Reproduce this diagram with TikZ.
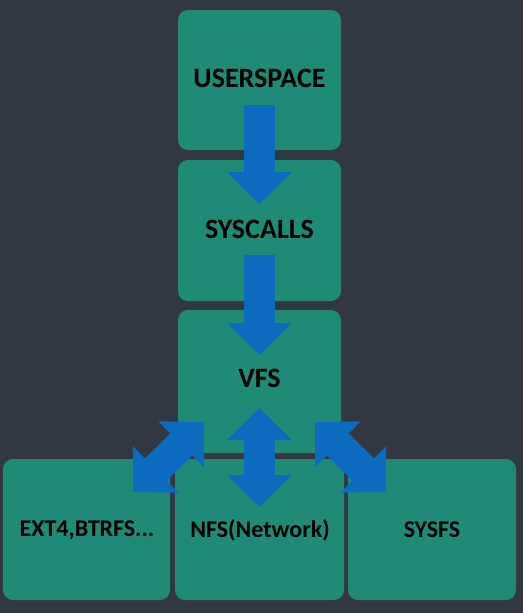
\documentclass[tikz,border=0pt]{standalone}
\usepackage{fontspec}
\setmainfont{Carlito}
\usetikzlibrary{arrows.meta}
\definecolor{bgc}{HTML}{323842}
\definecolor{boxc}{HTML}{1F8A75}
\definecolor{arrc}{HTML}{0B6BBF}
\tikzset{
  box/.style={fill=boxc, rounded corners=10pt, inner sep=0pt},
  toplabel/.style={font=\bfseries\fontsize{28}{32}\selectfont, text=black},
  botlabel/.style={font=\bfseries\fontsize{24}{28}\selectfont, text=black},
  blockarrow/.style={draw=arrc, line width=31pt, -{Triangle[width=63pt,length=32pt]}},
  dblarrow/.style={draw=arrc, line width=31pt, {Triangle[width=63pt,length=32pt]}-{Triangle[width=63pt,length=32pt]}}
}
\begin{document}
\begin{tikzpicture}[x=1pt,y=-1pt]
\fill[bgc] (0,0) rectangle (523,613);
\useasboundingbox (0,0) rectangle (523,613);
\node[box, minimum width=163pt, minimum height=140pt] (usr) at (259.5,80) {};
\node[box, minimum width=163pt, minimum height=141pt] (sys) at (259.5,230.5) {};
\node[box, minimum width=163pt, minimum height=143pt] (vfs) at (259.5,381.5) {};
\node[box, minimum width=167pt, minimum height=141pt] (ext) at (86.5,529.5) {};
\node[box, minimum width=169pt, minimum height=141pt] (nfs) at (259.5,529.5) {};
\node[box, minimum width=168pt, minimum height=141pt] (sysfs) at (432,529.5) {};
\node[toplabel] (tusr) at (259.5,78) {USERSPACE};
\node[toplabel] (tsys) at (259.5,229) {SYSCALLS};
\node[toplabel] (tvfs) at (259.5,378) {VFS};
\node[botlabel] (text) at (87,530) {EXT4,BTRFS...};
\node[botlabel] (tnfs) at (260,530) {NFS(Network)};
\node[botlabel] (tsysfs) at (432,530) {SYSFS};
\coordinate (a1s) at (259.5,105);
\coordinate (a1e) at (259.5,204);
\coordinate (a2s) at (259.5,255);
\coordinate (a2e) at (259.5,355);
\coordinate (m1) at (259.5,408);
\coordinate (m2) at (259.5,507);
\coordinate (l1) at (204,422);
\coordinate (l2) at (133,492);
\coordinate (r1) at (315,422);
\coordinate (r2) at (386,492);
\draw[blockarrow] (a1s) -- (a1e);
\draw[blockarrow] (a2s) -- (a2e);
\draw[dblarrow] (m1) -- (m2);
\draw[dblarrow] (l1) -- (l2);
\draw[dblarrow] (r1) -- (r2);
\end{tikzpicture}
\end{document}
